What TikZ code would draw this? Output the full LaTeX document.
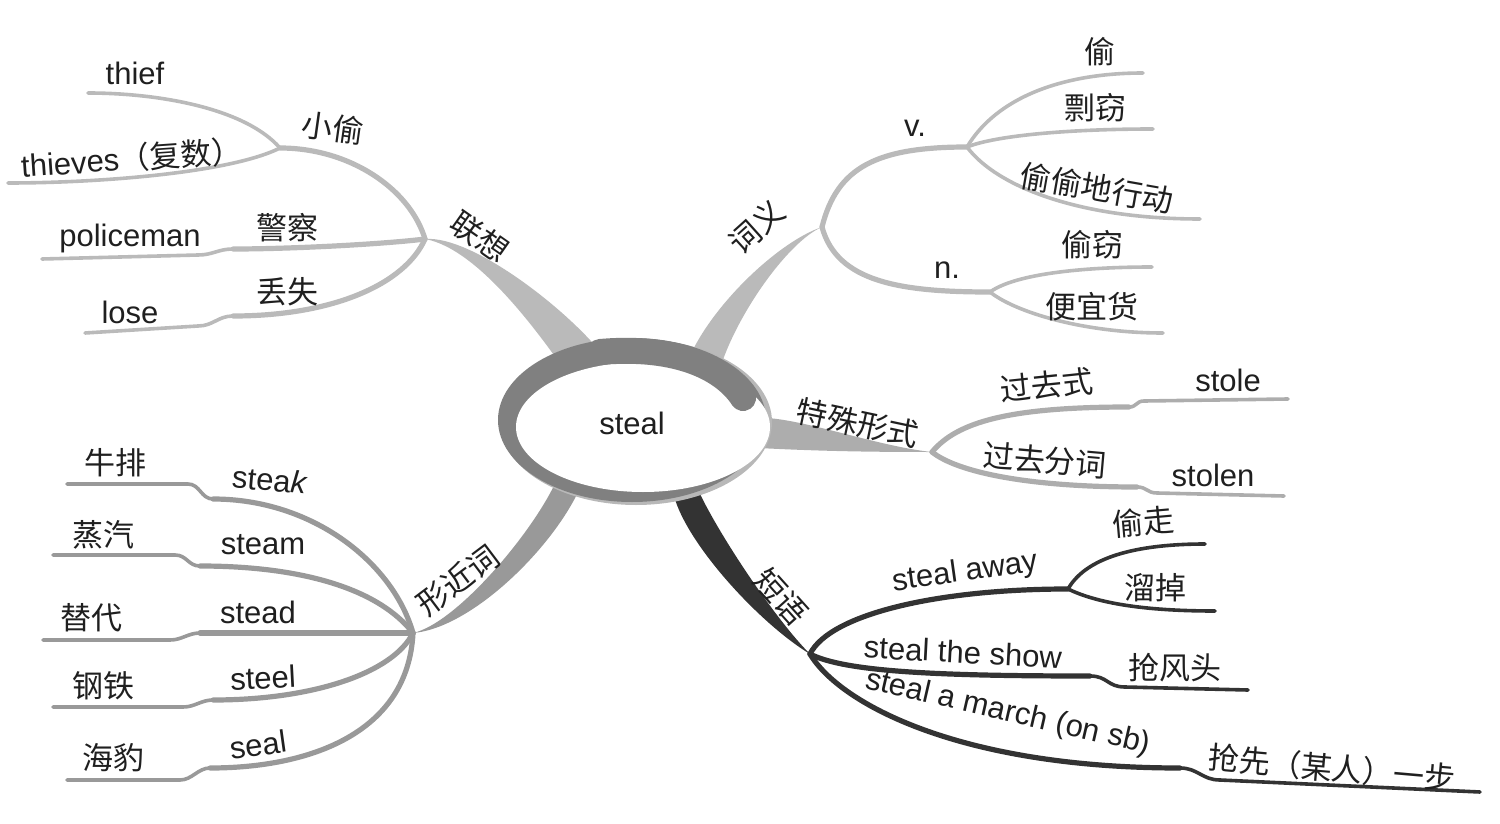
\documentclass[tikz,border=0pt]{standalone}
\usepackage{fontspec}
\setmainfont{Liberation Sans}
\newfontfamily\cjk{Noto Sans CJK SC}
\usepackage{tikz}
\usetikzlibrary{calc,backgrounds,shapes.geometric}
\definecolor{ringdark}{gray}{0.5}
\definecolor{ringlite}{gray}{0.72}
\definecolor{lightgrey}{gray}{0.73}
\definecolor{specgrey}{gray}{0.68}
\definecolor{midgrey}{gray}{0.6}
\definecolor{darkgrey}{gray}{0.2}
\definecolor{ink}{gray}{0.12}

\begin{document}
\begin{tikzpicture}[x=0.5pt,y=-0.5pt]

\tikzset{twig/.style={line width=2.6pt,line cap=round},
leaf/.style={line width=1.8pt,line cap=round},
en/.style={font=\fontsize{15.5}{18}\selectfont,text=ink,inner sep=0pt},
zh/.style={font=\cjk\fontsize{15.5}{18}\selectfont,text=ink,inner sep=0pt}}

\useasboundingbox (0,0) rectangle (1500,824);

% Centre
\fill[ringlite] (636,422) ellipse [x radius=136, y radius=83];
\fill[ringdark] (632,420) ellipse [x radius=134, y radius=82];
\node[ellipse,fill=white,minimum width=127pt,minimum height=65pt,
  label={[en,xshift=-5.5pt,yshift=2pt]center:steal}] (steal) at (643,427) {};
\draw[ringdark,line width=13pt,line cap=round] (600,352) .. controls (680,345) and (725,370) .. (743,398);

% Hubs
\coordinate (assoc) at (425,239);
\coordinate (thiefhub) at (280,148);
\coordinate (thiefend) at (88,93);
\coordinate (thievesend) at (8,183);
\coordinate (policehub) at (233,249);
\coordinate (policeend) at (42,259);
\coordinate (losehub) at (233,316);
\coordinate (loseend) at (85,333);
\coordinate (meaning) at (822,227);
\coordinate (vhub) at (967,147);
\coordinate (touend) at (1143,73);
\coordinate (piaoend) at (1153,129);
\coordinate (sneakend) at (1200,219);
\coordinate (nhub) at (990,292);
\coordinate (touqieend) at (1152,267);
\coordinate (bargainend) at (1163,333);
\coordinate (special) at (932,452);
\coordinate (pasthub) at (1129,407);
\coordinate (stoleend) at (1288,399);
\coordinate (pphub) at (1137,487);
\coordinate (stolenend) at (1284,496);
\coordinate (phrase) at (810,654);
\coordinate (awayhub) at (1068,589);
\coordinate (touzouend) at (1205,544);
\coordinate (liuend) at (1215,611);
\coordinate (showhub) at (1090,676);
\coordinate (showend) at (1248,690);
\coordinate (marchhub) at (1180,768);
\coordinate (marchend) at (1480,792);
\coordinate (similar) at (413,633);
\coordinate (steakhub) at (213,499); \coordinate (steakend) at (67,484);
\coordinate (steamhub) at (200,566); \coordinate (steamend) at (53,555);
\coordinate (steadhub) at (200,633); \coordinate (steadend) at (43,640);
\coordinate (steelhub) at (213,700); \coordinate (steelend) at (53,707);
\coordinate (sealhub) at (210,768); \coordinate (sealend) at (67,780);

\begin{scope}[on background layer]
% Lianxiang
\fill[lightgrey] (assoc) .. controls +(55,10) and +(-25,-35) .. (steal.145) -- (steal.118) .. controls +(-30,-45) and +(50,-4) .. (assoc);
\draw[lightgrey,twig] (assoc) .. controls +(-15,-50) and +(70,0) .. (thiefhub);
\draw[lightgrey,leaf] (thiefhub) .. controls +(-35,-40) and +(70,0) .. (thiefend);
\draw[lightgrey,leaf] (thiefhub) .. controls +(-50,25) and +(90,0) .. (thievesend);
\draw[lightgrey,twig] (assoc) .. controls +(-40,5) and +(60,0) .. (policehub);
\draw[lightgrey,leaf] (policehub) .. controls +(-15,0) and +(15,0) .. +(-35,6) -- (policeend);
\draw[lightgrey,twig] (assoc) .. controls +(-20,45) and +(100,0) .. (losehub);
\draw[lightgrey,leaf] (losehub) .. controls +(-15,0) and +(15,0) .. +(-35,10) -- (loseend);

% Ciyi
\fill[lightgrey] (meaning) .. controls +(-45,15) and +(20,-55) .. (steal.55) -- (steal.35) .. controls +(15,-55) and +(-35,15) .. (meaning);
\draw[lightgrey,twig] (meaning) .. controls +(15,-60) and +(-90,0) .. (vhub);
\draw[lightgrey,leaf] (vhub) .. controls +(30,-50) and +(-80,0) .. (touend);
\draw[lightgrey,leaf] (vhub) .. controls +(30,-12) and +(-80,0) .. (piaoend);
\draw[lightgrey,leaf] (vhub) .. controls +(30,40) and +(-120,0) .. (sneakend);
\draw[lightgrey,twig] (meaning) .. controls +(15,55) and +(-90,0) .. (nhub);
\draw[lightgrey,leaf] (nhub) .. controls +(25,-18) and +(-70,0) .. (touqieend);
\draw[lightgrey,leaf] (nhub) .. controls +(25,20) and +(-80,0) .. (bargainend);

% Teshu xingshi
\fill[specgrey] (special) .. controls +(-50,-5) and +(40,3) .. (steal.4) -- (steal.-10) .. controls +(60,3) and +(-60,0) .. (special);
\draw[specgrey,twig] (special) .. controls +(25,-30) and +(-120,0) .. (pasthub);
\draw[specgrey,leaf] (pasthub) .. controls +(8,0) and +(-8,0) .. +(15,-6) -- (stoleend);
\draw[specgrey,twig] (special) .. controls +(25,20) and +(-110,0) .. (pphub);
\draw[specgrey,leaf] (pphub) .. controls +(10,0) and +(-10,0) .. +(20,6) -- (stolenend);

% Duanyu
\fill[darkgrey] (phrase) .. controls +(-50,-30) and +(10,50) .. (steal.-65) -- (steal.-48) .. controls +(20,45) and +(-35,-35) .. (phrase);
\draw[darkgrey,twig] (phrase) .. controls +(20,-40) and +(-130,0) .. (awayhub);
\draw[darkgrey,leaf] (awayhub) .. controls +(20,-35) and +(-60,0) .. (touzouend);
\draw[darkgrey,leaf] (awayhub) .. controls +(25,12) and +(-80,0) .. (liuend);
\draw[darkgrey,twig] (phrase) .. controls +(35,18) and +(-150,0) .. (showhub);
\draw[darkgrey,leaf] (showhub) .. controls +(18,0) and +(-18,0) .. +(35,11) -- (showend);
\draw[darkgrey,twig] (phrase) .. controls +(30,50) and +(-220,0) .. (marchhub);
\draw[darkgrey,leaf] (marchhub) .. controls +(18,0) and +(-18,0) .. +(40,12) -- (marchend);

% Xingjinci
\fill[midgrey] (similar) .. controls +(45,-10) and +(-20,50) .. (steal.-150) -- (steal.-137) .. controls +(-25,60) and +(60,-5) .. (similar);
\foreach \w/\ax/\ay/\sx/\sy in {steak/-20/-70/-25/-15, steam/-35/-45/-25/-11, stead/-60/0/-30/7, steel/-20/40/-30/7, seal/-5/100/-30/12} {
  \draw[midgrey,twig] (similar) .. controls +(\ax,\ay) and +(100,0) .. (\w hub);
  \draw[midgrey,leaf] (\w hub) .. controls +(-12,0) and +(12,0) .. +(\sx,\sy) -- (\w end);
}
\end{scope}

% Labels
\node[zh,rotate=-35] (assocl) at (480,237) {联想};
\node[zh,rotate=-8] (thiefl) at (333,128) {小偷};
\node[en] (thiefw) at (135,73) {thief};
\node[en,rotate=4] (thievesw) at (132,158) {thieves{\cjk （复数）}};
\node[zh] (policel) at (287,228) {警察};
\node[en] (policew) at (130,238) {policeman};
\node[zh] (losel) at (287,292) {丢失};
\node[en] (losew) at (130,312) {lose};

\node[zh,rotate=42] (meaningl) at (757,227) {词义};
\node[en] (vl) at (915,128) {v.};
\node[zh] (toul) at (1100,52) {偷};
\node[zh] (piaol) at (1095,108) {剽窃};
\node[zh,rotate=-10] (sneakl) at (1097,188) {偷偷地行动};
\node[en] (nl) at (947,270) {n.};
\node[zh] (touqiel) at (1092,245) {偷窃};
\node[zh] (bargainl) at (1092,307) {便宜货};

\node[zh,rotate=-12] (speciall) at (858,423) {特殊形式};
\node[zh,rotate=6] (pastl) at (1047,385) {过去式};
\node[en] (stolew) at (1228,380) {stole};
\node[zh,rotate=-5] (ppl) at (1045,460) {过去分词};
\node[en] (stolenw) at (1213,475) {stolen};

\node[zh,rotate=-48] (phrasel) at (781,597) {短语};
\node[en,rotate=8] (awayw) at (965,573) {steal away};
\node[zh,rotate=5] (touzoul) at (1143,522) {偷走};
\node[zh] (liul) at (1155,588) {溜掉};
\node[en,rotate=-3] (showw) at (963,652) {steal the show};
\node[zh] (showl) at (1175,668) {抢风头};
\node[en,rotate=-13] (marchw) at (1008,713) {steal a march (on sb)};
\node[zh,rotate=-5] (marchl) at (1332,768) {抢先（某人）一步};

\node[zh,rotate=37] (similarl) at (458,580) {形近词};
\node[zh] (steakl) at (115,463) {牛排};
\node[en,rotate=-5] (steakw) at (270,480) {stea\textit{k}};
\node[zh] (steaml) at (103,535) {蒸汽};
\node[en] (steamw) at (263,545) {steam};
\node[zh] (steadl) at (92,618) {替代};
\node[en] (steadw) at (258,612) {stead};
\node[zh] (steell) at (103,686) {钢铁};
\node[en,rotate=3] (steelw) at (263,678) {steel};
\node[zh] (seall) at (113,758) {海豹};
\node[en,rotate=8] (sealw) at (258,745) {seal};

\end{tikzpicture}
\end{document}
